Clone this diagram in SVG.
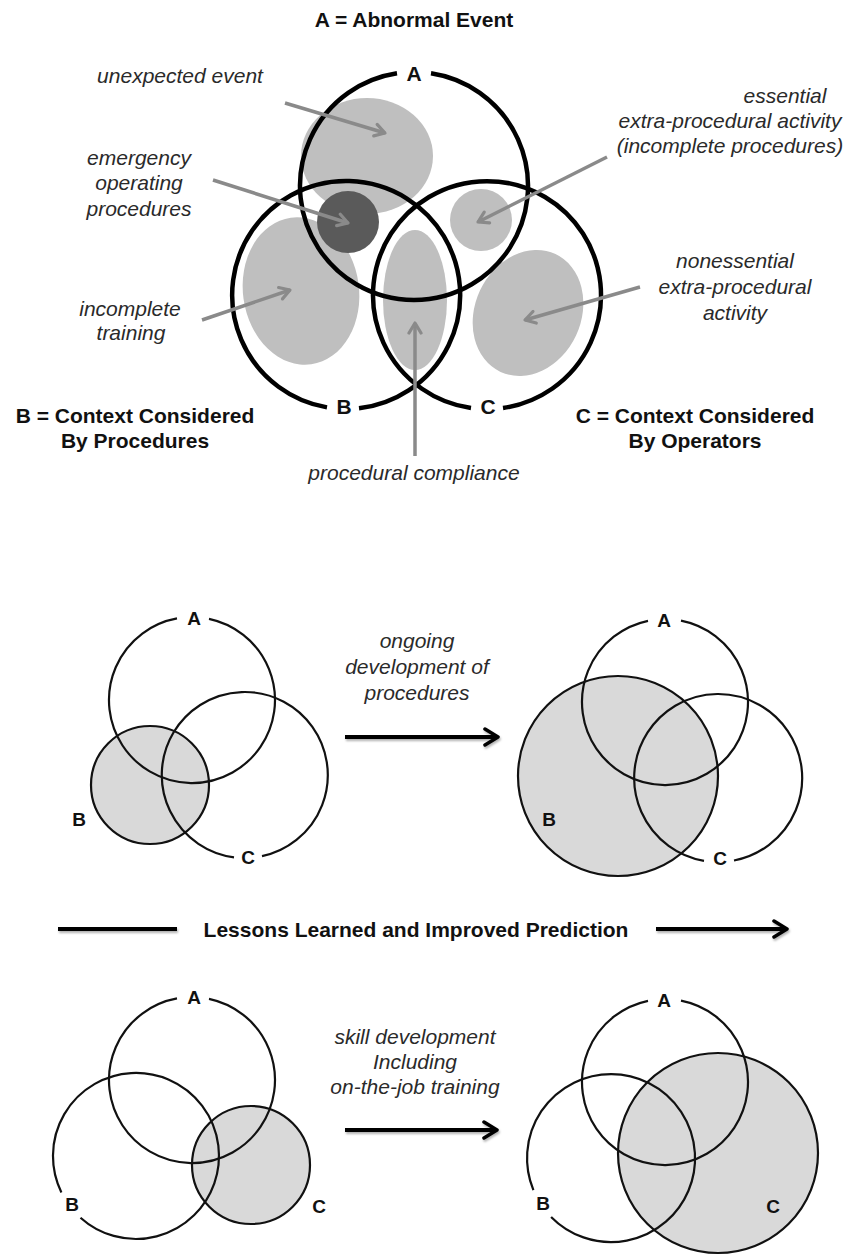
<svg xmlns="http://www.w3.org/2000/svg" width="854" height="1256" viewBox="0 0 854 1256">
<style>
.bold{font-family:"Liberation Sans",Arial,sans-serif;font-weight:bold;font-size:21px;fill:#111}
.lbl{font-family:"Liberation Sans",Arial,sans-serif;font-weight:bold;font-size:19px;fill:#111;text-anchor:middle}
.it{font-family:"Liberation Sans",Arial,sans-serif;font-style:italic;font-size:21px;fill:#2a2a2a;text-anchor:middle}
.ring{fill:none;stroke:#000;stroke-width:4.5}
.thin{fill:none;stroke:#111;stroke-width:2.2}
.shade{fill:#d9d9d9;stroke:#111;stroke-width:2.2}
.blob{fill:#bfbfbf}
.garrow{fill:none;stroke:#8a8a8a;stroke-width:3.5;marker-end:url(#gh)}
.barrow{fill:none;stroke:#000;stroke-width:4;marker-end:url(#bh)}
.bline{fill:none;stroke:#000;stroke-width:4}
</style>
<defs>
<filter id="sh" filterUnits="userSpaceOnUse" x="0" y="0" width="854" height="1256">
<feDropShadow dx="1" dy="2" stdDeviation="1.2" flood-color="#000" flood-opacity="0.3"/>
</filter>
<marker id="gh" viewBox="0 0 16 16" refX="13" refY="8" markerWidth="16" markerHeight="16" orient="auto" markerUnits="userSpaceOnUse">
<path d="M3,2 L13,8 L3,14" fill="none" stroke="#8a8a8a" stroke-width="3.2" stroke-linecap="round" stroke-linejoin="round"/>
</marker>
<marker id="bh" viewBox="0 0 20 20" refX="17" refY="10" markerWidth="20" markerHeight="20" orient="auto" markerUnits="userSpaceOnUse">
<path d="M4,2 L17,10 L4,18" fill="none" stroke="#000" stroke-width="3.5" stroke-linecap="round" stroke-linejoin="round"/>
</marker>
</defs>
<rect width="854" height="1256" fill="#fff"/>

<!-- Top diagram -->
<text class="bold" x="414" y="27" text-anchor="middle">A = Abnormal Event</text>

<g id="blobs">
<ellipse id="unexpected-blob" class="blob" cx="367" cy="156" rx="66" ry="58"/>
<ellipse id="training-blob" class="blob" cx="301" cy="291" rx="58" ry="74" transform="rotate(-8 301 291)"/>
<ellipse id="compliance-blob" class="blob" cx="415" cy="300" rx="32" ry="70"/>
<ellipse id="nonessential-blob" class="blob" cx="528" cy="313" rx="53" ry="65" transform="rotate(25 528 313)"/>
<circle id="essential-blob" class="blob" cx="481" cy="220" r="31"/>
<circle id="emergency-blob" cx="348" cy="222" r="31" fill="#5a5a5a"/>
</g>

<g id="top-A">
<path class="ring" d="M 431 73.3 A 114 114 0 1 1 397 73.3"/>
<text class="bold" x="414" y="81" text-anchor="middle">A</text>
</g>
<g id="top-B">
<path class="ring" d="M 327 407.4 A 114 114 0 1 1 359 408.3"/>
<text class="bold" x="344" y="414" text-anchor="middle">B</text>
</g>
<g id="top-C">
<path class="ring" d="M 471 408 A 114 114 0 1 1 503 408"/>
<text class="bold" x="488" y="414" text-anchor="middle">C</text>
</g>

<g id="connectors">
<line class="garrow" x1="285" y1="103" x2="385" y2="133"/>
<line class="garrow" x1="213" y1="180" x2="348" y2="223"/>
<line class="garrow" x1="607" y1="157" x2="478" y2="222"/>
<line class="garrow" x1="202" y1="320" x2="290" y2="290"/>
<line class="garrow" x1="640" y1="287" x2="525" y2="320"/>
<line class="garrow" x1="415" y1="456" x2="415" y2="323"/>
<g filter="url(#sh)">
<line class="barrow" x1="345" y1="737" x2="498" y2="737"/>
<line class="bline" x1="58" y1="929" x2="177" y2="929"/>
<line class="barrow" x1="656" y1="929" x2="787" y2="929"/>
<line class="barrow" x1="345" y1="1130" x2="497" y2="1130"/>
</g>
</g>

<g id="top-labels">
<text class="it" x="180" y="83">unexpected event</text>
<text class="it" x="139" y="165">emergency</text>
<text class="it" x="139" y="190">operating</text>
<text class="it" x="139" y="216">procedures</text>
<text class="it" x="785" y="103">essential</text>
<text class="it" x="730" y="128">extra-procedural activity</text>
<text class="it" x="730" y="153">(incomplete procedures)</text>
<text class="it" x="735" y="268">nonessential</text>
<text class="it" x="735" y="294">extra-procedural</text>
<text class="it" x="735" y="320">activity</text>
<text class="it" x="130" y="316">incomplete</text>
<text class="it" x="131" y="340">training</text>
<text class="it" x="414" y="480">procedural compliance</text>
<text class="bold" x="135" y="423" text-anchor="middle">B = Context Considered</text>
<text class="bold" x="135" y="448" text-anchor="middle">By Procedures</text>
<text class="bold" x="695" y="423" text-anchor="middle">C = Context Considered</text>
<text class="bold" x="695" y="448" text-anchor="middle">By Operators</text>
</g>

<!-- Middle left -->
<g id="mid-left">
<circle class="shade" cx="150" cy="785" r="59"/>
<path class="thin" d="M 209 618.8 A 83 83 0 1 1 177 618.4"/>
<path class="thin" d="M 234 857.3 A 83 83 0 1 1 262 856.2"/>
<text class="lbl" x="194" y="625">A</text>
<text class="lbl" x="79" y="826">B</text>
<text class="lbl" x="248" y="864">C</text>
</g>
<g id="mid-text">
<text class="it" x="417" y="648">ongoing</text>
<text class="it" x="417" y="674">development of</text>
<text class="it" x="417" y="700">procedures</text>
</g>
<!-- Middle right -->
<g id="mid-right">
<circle class="shade" cx="618" cy="776" r="100"/>
<path class="thin" d="M 681 620.6 A 83 83 0 1 1 648 620.8"/>
<path class="thin" d="M 704 860.8 A 84 84 0 1 1 734 860.5"/>
<text class="lbl" x="664" y="627">A</text>
<text class="lbl" x="549" y="826">B</text>
<text class="lbl" x="720" y="865">C</text>
</g>

<g id="lessons">
<text class="bold" x="416" y="937" text-anchor="middle">Lessons Learned and Improved Prediction</text>
</g>

<!-- Bottom left -->
<g id="bot-left">
<circle class="shade" cx="251" cy="1165" r="59"/>
<path class="thin" d="M 209 998.8 A 83 83 0 1 1 177 998.4"/>
<path class="thin" d="M 61.4 1192.4 A 83 83 0 1 1 80.5 1217.7"/>
<text class="lbl" x="194" y="1004">A</text>
<text class="lbl" x="72" y="1211">B</text>
<text class="lbl" x="319" y="1213">C</text>
</g>
<g id="bot-text">
<text class="it" x="415" y="1044">skill development</text>
<text class="it" x="415" y="1069">Including</text>
<text class="it" x="415" y="1094">on-the-job training</text>
</g>
<!-- Bottom right -->
<g id="bot-right">
<circle class="shade" cx="718" cy="1153" r="100"/>
<path class="thin" d="M 681 1000.6 A 83 83 0 1 1 648 1000.8"/>
<path class="thin" d="M 533.4 1190.1 A 84 84 0 1 1 551.1 1216.9"/>
<text class="lbl" x="664" y="1007">A</text>
<text class="lbl" x="543" y="1210">B</text>
<text class="lbl" x="773" y="1213">C</text>
</g>
</svg>
